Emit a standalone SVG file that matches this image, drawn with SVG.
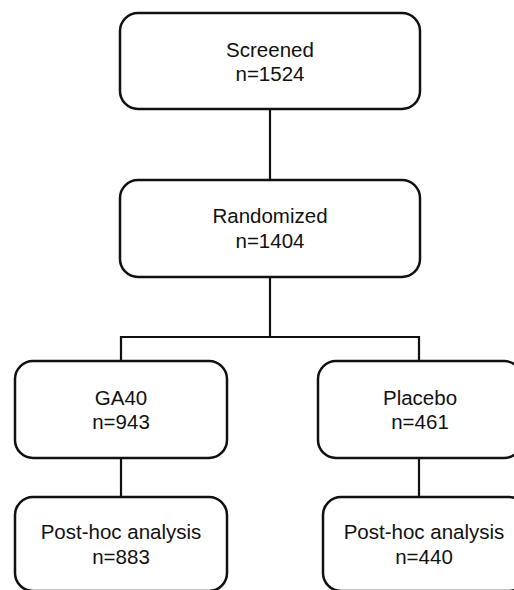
<svg xmlns="http://www.w3.org/2000/svg" width="514" height="590" viewBox="0 0 514 590">
<style>
.box{fill:#fff;stroke:#111;stroke-width:2.5}
.con{fill:none;stroke:#111;stroke-width:2.2}
text{font-family:"Liberation Sans",Arial,sans-serif;font-size:20.5px;fill:#111;text-anchor:middle}
</style>
<rect width="514" height="590" fill="#fff"/>
<g id="connectors" class="con">
<line x1="270" y1="109" x2="270" y2="180"/>
<line x1="270" y1="277" x2="270" y2="337"/>
<polyline points="121,361 121,337 419,337 419,361"/>
<line x1="121" y1="458" x2="121" y2="497"/>
<line x1="419" y1="458" x2="419" y2="497"/>
</g>
<g id="screened">
<rect class="box" x="120" y="13" width="300" height="96" rx="18"/>
<text x="270" y="57">Screened</text>
<text x="270" y="81">n=1524</text>
</g>
<g id="randomized">
<rect class="box" x="120" y="180" width="300" height="97" rx="18"/>
<text x="270" y="223">Randomized</text>
<text x="270" y="248">n=1404</text>
</g>
<g id="ga40">
<rect class="box" x="15" y="361" width="212" height="97" rx="18"/>
<text x="121" y="405">GA40</text>
<text x="121" y="429">n=943</text>
</g>
<g id="placebo">
<rect class="box" x="318" y="361" width="204" height="97" rx="18"/>
<text x="420" y="405">Placebo</text>
<text x="420" y="429">n=461</text>
</g>
<g id="posthoc-ga40">
<rect class="box" x="15" y="497" width="212" height="94" rx="18"/>
<text x="121" y="539">Post-hoc analysis</text>
<text x="121" y="564">n=883</text>
</g>
<g id="posthoc-placebo">
<rect class="box" x="323" y="497" width="204" height="94" rx="18"/>
<text x="424" y="539">Post-hoc analysis</text>
<text x="424" y="564">n=440</text>
</g>
</svg>
